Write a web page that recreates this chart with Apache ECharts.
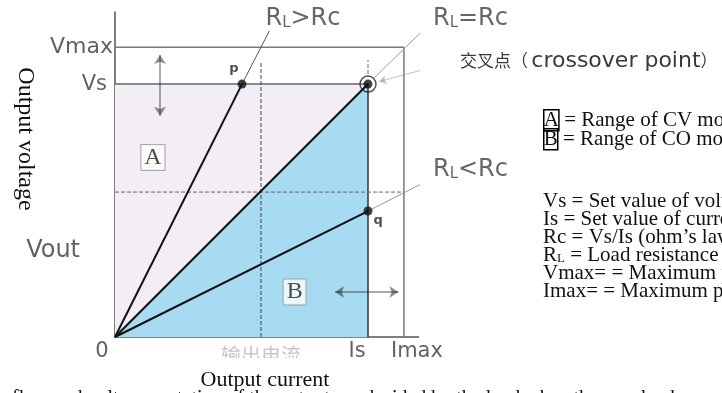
<!DOCTYPE html>
<html>
<head>
<meta charset="utf-8">
<script src="https://cdn.jsdelivr.net/npm/echarts@6/dist/echarts.min.js"></script>
<style>
  html, body { margin: 0; padding: 0; background: #fff; }
  #chart { width: 722px; height: 393px; }
</style>
</head>
<body>
<div id="chart"></div>
<script>
// key operating values (axis units)
const setPoint = [10, 10]          // [Is, Vs] crossover point
const limits = [11.42, 11.46]      // [Imax, Vmax]
const midGuide = [5.77, 5.73]      // dashed guide lines
const rangeA = [[0, 10], [10, 10]]
const lineEqual = [[0, 0], [10, 10]]
const lineHigh = [[0, 0], [5.02, 10]]
const lineLow = [[0, 0], [10, 4.98]]
const leaderHigh = [[5.02, 10], [6.1, 12.1]]
const leaderEqual = [[10.25, 10.25], [12.25, 12.2]]
const leaderLow = [[10, 4.98], [12.4, 6.2]]
const pointer = [[13.2, 10.85], [10.45, 10.1]]
const arrowV = [[1.78, 11.15], [1.78, 8.75]]
const arrowH = [[8.7, 1.78], [11.2, 1.78]]
const axisNames = ['Vmax', 'Vs', 'Vout', '0', 'Is', 'Imax']
const modeRows = [
  '{b|A} = Range of CV mode',
  '{b|B} = Range of CO mode',
]
const legendRows = [
  'Vs = Set value of voltage',
  'Is = Set value of current',
  'Rc = Vs/Is (ohm\u2019s law)',
  '{r|R}{s|L}{r| = Load resistance}',
  'Vmax= = Maximum permissible voltage',
  'Imax= = Maximum permissible current',
]

const [Is, Vs] = setPoint
const [Imax, Vmax] = limits
const lavender = '#f3eef6'
const blue = '#a6dbf2'
const sans = 'DejaVu Sans'
const serif = 'Liberation Serif'

const seg = (data, color, width, type, z) => ({
  type: 'line', data, symbol: 'none', silent: true, clip: false, z: z || 3,
  lineStyle: { color, width, type: type || 'solid' },
})
const txt = (value, text, position, extra) => ({
  value, label: Object.assign({ show: true, formatter: text, position }, extra || {}),
})

const rlRich = {
  r: { fontFamily: sans, fontSize: 24, color: '#404040' },
  s: { fontFamily: sans, fontSize: 15, color: '#404040', padding: [9, 0, 0, 0] },
}

const chart = echarts.init(document.getElementById('chart'))
const option = {
  animation: false,
  grid: { left: 115, top: 12, width: 303.6, height: 325 },
  xAxis: {
    type: 'value', min: 0, max: 12,
    axisLine: { show: true, lineStyle: { color: '#555', width: 1.5 } },
    axisTick: { show: false }, axisLabel: { show: false }, splitLine: { show: false },
  },
  yAxis: {
    type: 'value', min: 0, max: 12.85,
    axisLine: { show: true, lineStyle: { color: '#555', width: 1.5 } },
    axisTick: { show: false }, axisLabel: { show: false }, splitLine: { show: false },
  },
  series: [
    // range A (CV) and range B (CC) fills
    { type: 'line', data: rangeA, symbol: 'none', silent: true, z: 1,
      lineStyle: { width: 0 }, areaStyle: { color: lavender, opacity: 1 } },
    { type: 'line', data: lineEqual, symbol: 'none', silent: true, z: 2,
      lineStyle: { width: 0 }, areaStyle: { color: blue, opacity: 1 } },
    seg([[0, Vmax], [Imax, Vmax]], '#777', 1.5),
    seg([[Imax, 0], [Imax, Vmax]], '#777', 1.5),
    seg(rangeA, '#666', 1.5),
    seg([[Is, 0], [Is, Vs]], '#333', 1.5),
    seg([[midGuide[0], 0], [midGuide[0], 10.9]], '#444', 1, 'dashed'),
    seg([[0, midGuide[1]], [Imax, midGuide[1]]], '#666', 1, 'dashed'),
    seg([[Is, 10.4], [Is, 10.95]], '#666', 1, 'dashed'),
    seg(lineEqual, '#111', 2.2, 'solid', 4),
    seg(lineHigh, '#111', 2, 'solid', 4),
    seg(lineLow, '#111', 2, 'solid', 4),
    seg(leaderHigh, '#555', 1),
    seg(leaderEqual, '#999', 1),
    seg(leaderLow, '#999', 1),
    {
      type: 'lines', coordinateSystem: 'cartesian2d', silent: true, z: 5,
      symbol: ['arrow', 'arrow'], symbolSize: 9,
      lineStyle: { color: '#222', width: 1.5 },
      data: [{ coords: arrowV }, { coords: arrowH }],
    },
    {
      type: 'lines', coordinateSystem: 'cartesian2d', silent: true, z: 5,
      symbol: ['none', 'arrow'], symbolSize: 7,
      lineStyle: { color: '#888', width: 1 },
      data: [{ coords: pointer }],
    },
    // operating points p, q and crossover
    {
      type: 'scatter', silent: true, z: 6, symbolSize: 9,
      itemStyle: { color: '#111' },
      data: [
        txt(lineHigh[1], 'p', 'left', { offset: [6, -15] }),
        txt(lineLow[1], 'q', 'right', { offset: [-4, 10] }),
        txt(setPoint, '', 'top'),
      ],
      label: { fontFamily: sans, fontWeight: 'bold', fontSize: 13, color: '#222' },
    },
    {
      type: 'scatter', silent: true, z: 6, symbolSize: 16,
      itemStyle: { color: 'rgba(0,0,0,0)', borderColor: '#222', borderWidth: 1.5 },
      data: [setPoint],
    },
    // axis names
    {
      type: 'scatter', silent: true, z: 7, symbolSize: 0, clip: false,
      label: { fontFamily: sans, fontSize: 21, color: '#3a3a3a' },
      data: [
        txt([0, Vmax], axisNames[0], 'left', { distance: 2, fontSize: 22 }),
        txt([0, Vs], axisNames[1], 'left', { distance: 8 }),
        txt([0, 3.4], axisNames[2], 'left', { distance: 35, fontSize: 24 }),
        txt([0, 0], axisNames[3], 'bottom', { distance: 4, offset: [-13, 0] }),
        txt([Is, 0], axisNames[4], 'bottom', { distance: 4, offset: [-11, 0] }),
        txt([Imax, 0], axisNames[5], 'bottom', { distance: 4, offset: [13, 0] }),
      ],
    },
    // region boxes
    {
      type: 'scatter', silent: true, z: 7, symbolSize: 0,
      label: {
        fontFamily: serif, fontSize: 24, color: '#222', backgroundColor: '#fff',
        borderColor: '#999', borderWidth: 1, padding: [1, 3, 0, 3],
      },
      data: [txt([1.5, 7.1], 'A', 'inside'), txt([7.1, 1.78], 'B', 'inside')],
    },
    // load line labels
    {
      type: 'scatter', silent: true, z: 7, symbolSize: 0, clip: false,
      label: { rich: rlRich },
      data: [
        txt([7.43, 12.57], '{r|R}{s|L}{r|>Rc}', 'inside'),
        txt([14.05, 12.57], '{r|R}{s|L}{r|=Rc}', 'inside'),
        txt([14.05, 6.6], '{r|R}{s|L}{r|<Rc}', 'inside'),
      ],
    },
  ],
  graphic: [
    { type: 'text', left: 460, top: 50, z: 10,
      style: {
        text: '{c|交叉点}{c|（} {l|crossover point}{c|）}',
        rich: {
          c: { fontFamily: 'Noto Sans CJK SC', fontSize: 17, fill: '#3a3a3a' },
          l: { fontFamily: sans, fontSize: 22, fill: '#3a3a3a' },
        },
      } },
    { type: 'text', x: 25, y: 139, rotation: -Math.PI / 2, z: 10,
      style: { text: 'Output voltage', font: '24px "Liberation Serif"', fill: '#111', align: 'center', verticalAlign: 'middle' } },
    { type: 'text', left: 221, top: 345, z: 10,
      style: { text: '输出电流', font: '20px "Noto Sans CJK SC"', fill: '#c8c8c8' } },
    { type: 'rect', shape: { x: 210, y: 358, width: 110, height: 12 }, z: 11, style: { fill: '#fff' } },
    { type: 'text', x: 265, y: 380, z: 12,
      style: { text: 'Output current', font: '22px "Liberation Serif"', fill: '#111', align: 'center', verticalAlign: 'middle' } },
    { type: 'text', left: 12, top: 389, z: 12,
      style: { text: 'flow and voltage mutation of the output are decided by the load when the supply changes mode', font: '20px "Liberation Serif"', fill: '#111' } },
    { type: 'text', left: 543, top: 109, z: 10,
      style: {
        text: modeRows.join('\n'),
        font: '21px "Liberation Serif"', fill: '#111', lineHeight: 19,
        rich: { b: { fontFamily: serif, fontSize: 21, borderColor: '#000', borderWidth: 1.5, padding: [0, 0, 0, 0], lineHeight: 19 } },
      } },
    { type: 'text', left: 543, top: 191, z: 10,
      style: {
        text: legendRows.join('\n'),
        font: '21px "Liberation Serif"', fill: '#111', lineHeight: 18,
        rich: {
          r: { fontFamily: serif, fontSize: 21, lineHeight: 18 },
          s: { fontFamily: serif, fontSize: 13, lineHeight: 18, padding: [6, 0, 0, 0] },
        },
      } },
  ],
}
chart.setOption(option)
</script>
</body>
</html>
